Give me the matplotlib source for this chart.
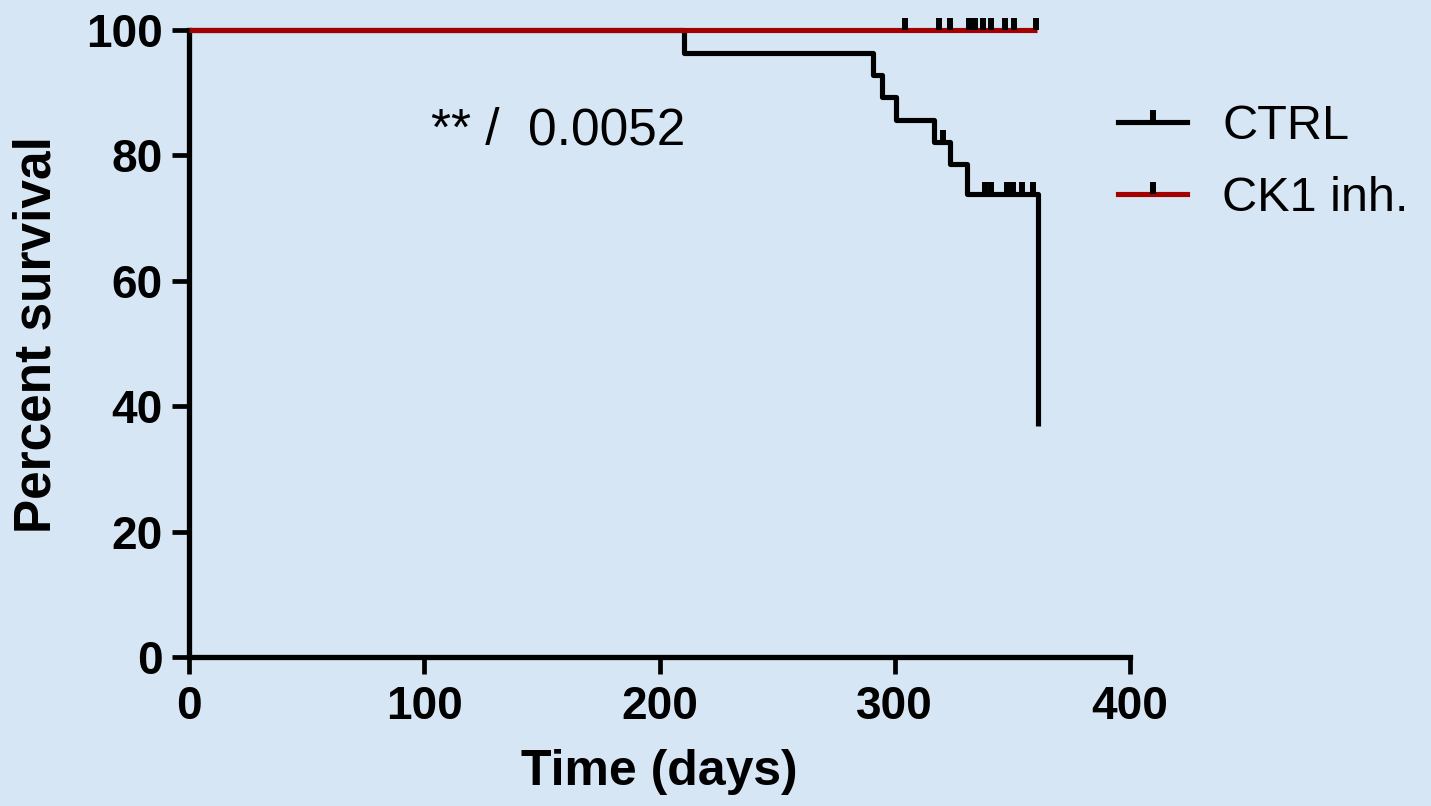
import matplotlib
matplotlib.use("Agg")
import matplotlib.pyplot as plt
from matplotlib.path import Path
from matplotlib.lines import Line2D

# ---- data ----
ctrl_times = [0, 210.4, 290.8, 294.4, 300.5, 316.7, 323.5, 330.6, 361.0]
ctrl_surv = [100, 96.4, 92.9, 89.3, 85.7, 82.1, 78.6, 73.9, 36.9]
ctrl_censor_t = [320.3, 338.4, 341.0, 347.7, 350.3, 354.2, 358.8]
ctrl_censor_s = [82.1, 73.9, 73.9, 73.9, 73.9, 73.9, 73.9]

ck1_times = [0, 360.3]
ck1_surv = [100, 100]
ck1_censor_t = [304.5, 318.7, 323.5, 331.5, 334.0, 337.5, 341.0, 347.0, 350.5, 360.0]
ck1_censor_s = [100] * len(ck1_censor_t)

xticks = [0, 100, 200, 300, 400]
yticks = [0, 20, 40, 60, 80, 100]
series_names = ["CTRL", "CK1 inh."]
annotation = "** /  0.0052"

# ---- style ----
plt.rcParams['font.family'] = ['Liberation Sans', 'DejaVu Sans']
bg = '#d6e6f5'
red = '#a30000'
W, H = 1431, 806
fig = plt.figure(figsize=(W / 100, H / 100), dpi=100, facecolor=bg)
ax = fig.add_axes([189 / W, (806 - 657) / H, (1130 - 189) / W, (657 - 30) / H])
ax.set_facecolor(bg)

tick = Path([(0, 0), (0, 1)], [Path.MOVETO, Path.LINETO])
lw = 3.7
ms = 17
mew = 4.3

# CTRL
ax.step(ctrl_times + [ctrl_times[-1]], ctrl_surv + [ctrl_surv[-1]], where='post',
        color='black', lw=lw, clip_on=False, zorder=3, solid_capstyle='butt')
ax.plot(ctrl_censor_t, ctrl_censor_s, ls='none', marker=tick, ms=ms, mew=mew,
        mec='black', clip_on=False, zorder=4)
# CK1 inh.
ax.step(ck1_times, ck1_surv, where='post', color=red, lw=lw, clip_on=False, zorder=3,
        solid_capstyle='butt')
ax.plot(ck1_censor_t, ck1_censor_s, ls='none', marker=tick, ms=ms, mew=mew,
        mec='black', clip_on=False, zorder=4)

ax.set_xlim(0, 400)
ax.set_ylim(0, 100)
ax.set_xticks(xticks)
ax.set_yticks(yticks)
for s in ['top', 'right']:
    ax.spines[s].set_visible(False)
for s in ['left', 'bottom']:
    ax.spines[s].set_linewidth(3.8)
    ax.spines[s].set_color('black')
ax.tick_params(axis='both', direction='out', length=12, width=3.4, colors='black')
ax.tick_params(axis='y', pad=7)
ax.tick_params(axis='x', pad=8)
for lab in ax.get_xticklabels() + ax.get_yticklabels():
    lab.set_fontsize(33)
    lab.set_fontweight('bold')

ax.set_xlabel('Time (days)', fontsize=36, fontweight='bold')
ax.set_ylabel('Percent survival', fontsize=37, fontweight='bold')
ax.xaxis.set_label_coords(0.5, -0.147)
ax.yaxis.set_label_coords(-0.135, 0.514)

ax.text(102.9, 81.7, annotation, fontsize=37, va='baseline', ha='left')

handles = [
    Line2D([], [], color='black', lw=lw, marker=tick, ms=ms, mew=mew, mec='black'),
    Line2D([], [], color=red, lw=lw, marker=tick, ms=ms, mew=mew, mec='black'),
]
leg = fig.legend(handles, series_names, loc='upper left',
                 bbox_to_anchor=(1118 / W, 1 - 104 / H), frameon=False,
                 fontsize=35, handlelength=1.42, handletextpad=0.72,
                 labelspacing=0.55, borderpad=0, borderaxespad=0, numpoints=1)

fig.savefig('out.png', dpi=100, facecolor=bg)
